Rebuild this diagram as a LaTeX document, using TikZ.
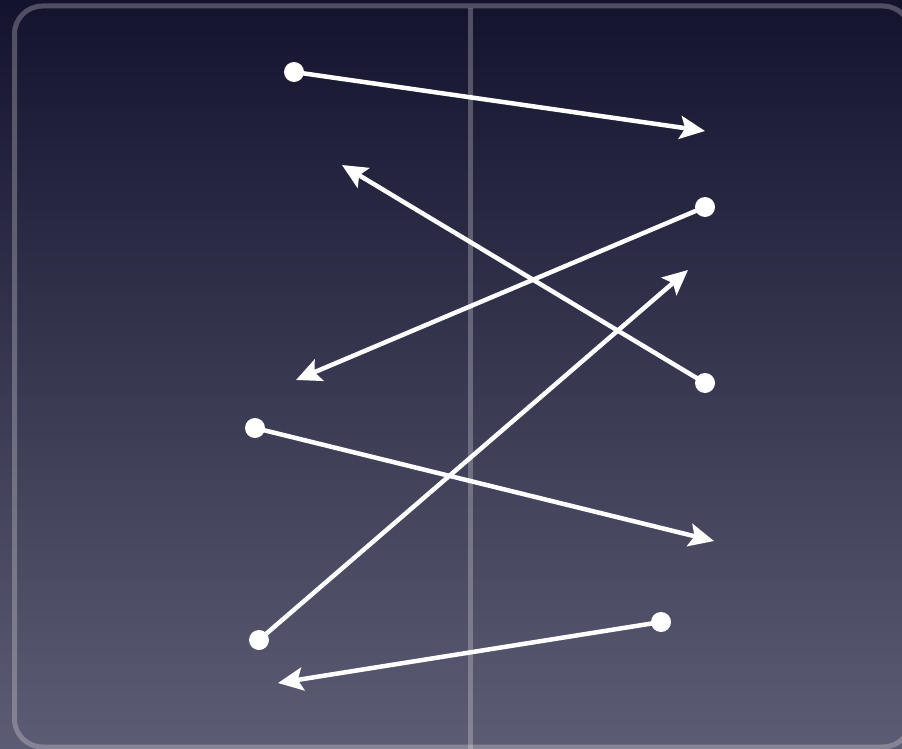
\documentclass[tikz,border=0pt]{standalone}
\usetikzlibrary{arrows.meta}
\definecolor{bgtop}{RGB}{20,19,46}
\definecolor{bgbot}{RGB}{92,92,116}
\tikzset{
  conn/.style={draw=white, line width=4.5pt, -{Stealth[length=25pt,width=23pt,inset=5pt]}},
  dotnode/.style={circle, fill=white, inner sep=0pt, minimum size=20pt},
  frameline/.style={draw=white, draw opacity=0.25, line width=5pt},
}
\begin{document}
\begin{tikzpicture}[x=1pt,y=-1pt]
\useasboundingbox (0,0) rectangle (902,749);
\shade[top color=bgtop, bottom color=bgbot] (0,0) rectangle (902,749);
\begin{scope}
\clip (0,0) rectangle (902,749);
\draw[frameline, rounded corners=28pt] (14.5,6) rectangle (911,747);
\draw[frameline] (470,8.5) -- (470,749);
\end{scope}
% start dots
\node[dotnode] (s1) at (294,72) {};
\node[dotnode] (s2) at (705,383) {};
\node[dotnode] (s3) at (705,207) {};
\node[dotnode] (s4) at (255,428) {};
\node[dotnode] (s5) at (259,640) {};
\node[dotnode] (s6) at (661,622) {};
% arrow tips
\coordinate (t1) at (705,131);
\coordinate (t2) at (342,165);
\coordinate (t3) at (296,380);
\coordinate (t4) at (714,541);
\coordinate (t5) at (688,270);
\coordinate (t6) at (278,683);
\draw[conn] (s1.center) -- (t1);
\draw[conn] (s2.center) -- (t2);
\draw[conn] (s3.center) -- (t3);
\draw[conn] (s4.center) -- (t4);
\draw[conn] (s5.center) -- (t5);
\draw[conn] (s6.center) -- (t6);
\end{tikzpicture}
\end{document}
